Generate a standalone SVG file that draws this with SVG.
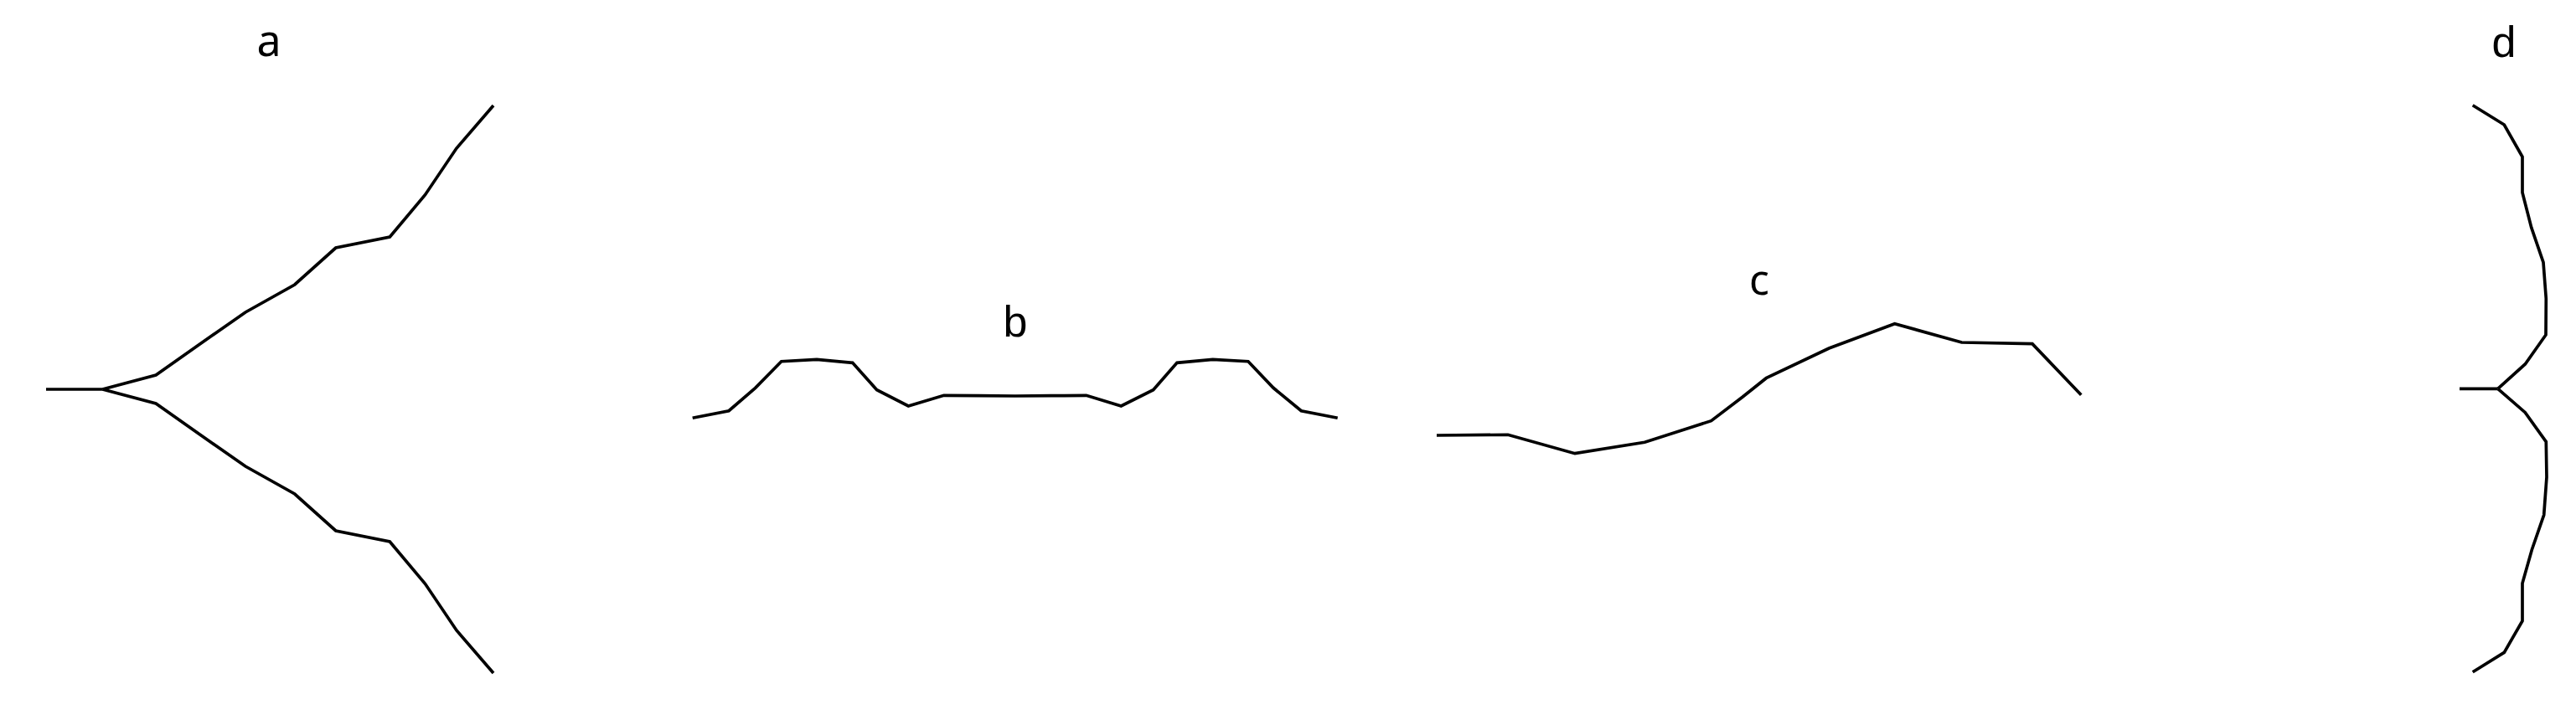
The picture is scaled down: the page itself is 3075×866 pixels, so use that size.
<svg xmlns="http://www.w3.org/2000/svg" width="3075" height="866" viewBox="0 0 3075 866">
<style>
.ln{fill:none;stroke:#000;stroke-width:3.7;stroke-linejoin:miter;stroke-linecap:butt}
.lb{font-size:52px;fill:#000;text-anchor:middle}
.n{font-family:"Noto Sans","Open Sans",sans-serif}
.l{font-family:"Liberation Sans",Arial,sans-serif}
</style>
<rect width="3075" height="866" fill="#fff"/>
<g id="labels">
<text class="lb n" x="321" y="66.5">a</text>
<text class="lb l" x="1212" y="402">b</text>
<text class="lb n" x="2100" y="351.5" style="font-size:50px">c</text>
<text class="lb l" x="2989" y="68">d</text>
</g>
<g id="connectors">
<g id="panel-a">
<polyline class="ln" points="55,465 122.4,465"/>
<polyline class="ln" points="122.4,465 186.1,448 240,410 293,373 351.8,340 400.8,296 465.3,283 507.3,233 545,177 589,126"/>
<polyline class="ln" points="122.4,465 186.1,482 240,520 293,557 351.8,590 400.8,634 465.3,647 507.3,697 545,753 589,804"/>
</g>
<g id="panel-b">
<polyline class="ln" points="826.7,499.3 870,490.7 901.7,463.3 932.7,431.7 975,429.3 1017.7,433.3 1046.7,465.7 1084.3,485 1126.7,472.3 1168.3,472.7 1211.7,473 1255,472.7 1296.7,472.3 1338.3,485 1376.7,465.7 1405,433.3 1447.7,429.3 1490,431.7 1520,463.3 1553.3,490.7 1596.7,499.3"/>
</g>
<g id="panel-c">
<polyline class="ln" points="1715,520 1800,519.3 1880,541.7 1963.3,528.3 2042.7,502.7 2080,474.3 2108.3,451.7 2183.3,416 2261.7,386.7 2341.7,409 2426,410.7 2484.3,471.7"/>
</g>
<g id="panel-d">
<polyline class="ln" points="2936,464.3 2981.7,464.3"/>
<polyline class="ln" points="2981.7,464.3 3014.3,435 3039,400 3039.3,356.7 3036,313.3 3021.7,271.7 3011,230 3011,187.3 2989.3,149 2951.7,125.7"/>
<polyline class="ln" points="2981.7,464.3 3014.3,492.7 3039.3,527.7 3040,570 3036.7,615 3022.3,656.7 3011,696.7 3011,741.7 2989.3,779.3 2951.7,802.7"/>
</g>
</g>
</svg>
